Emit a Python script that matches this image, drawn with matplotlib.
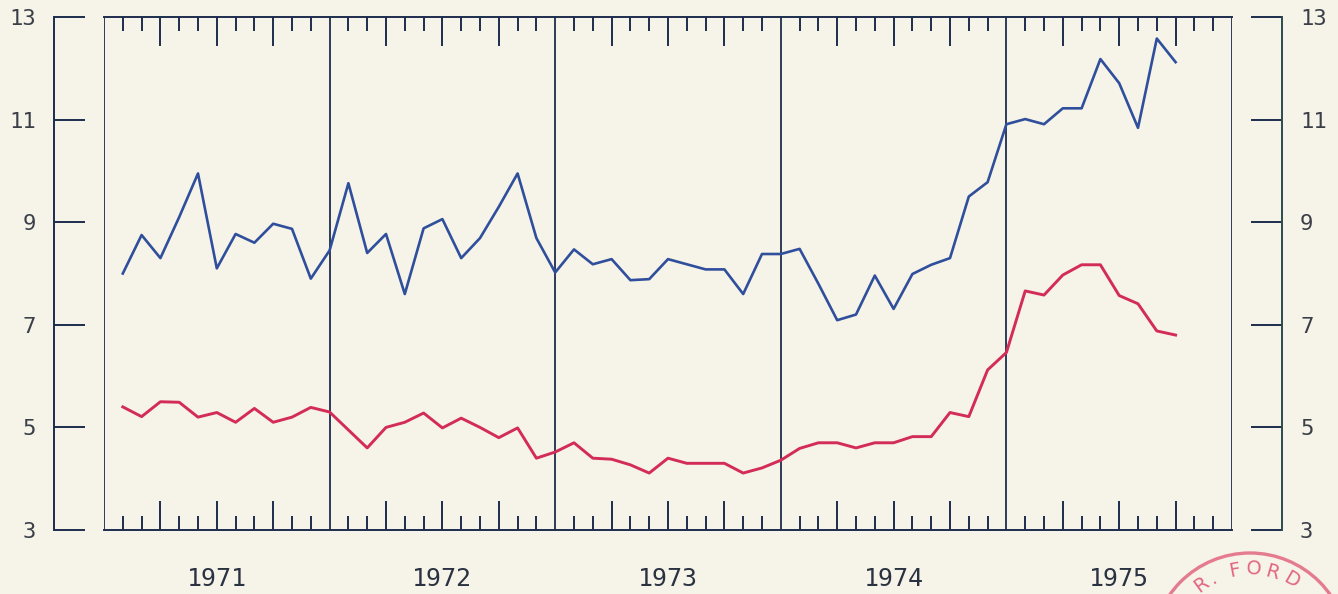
#!/usr/bin/env python3
"""Monthly series 1971-1975, two lines on a boxed plotter-style chart."""
import matplotlib

matplotlib.use("Agg")
import matplotlib.pyplot as plt
from matplotlib.patches import Circle
from matplotlib.ticker import FixedLocator, NullFormatter
import numpy as np

plt.rcParams["font.family"] = ["DejaVu Sans Mono", "DejaVu Sans"]

years = [1971, 1972, 1973, 1974, 1975]
year_labels = ["1971", "1972", "1973", "1974", "1975"]
y_ticks = [3, 5, 7, 9, 11, 13]

# monthly values, Jan 1971 .. Sep 1975
blue = [
    8.00, 8.75, 8.30, 9.10, 9.95, 8.10, 8.77, 8.60, 8.97, 8.87, 7.90, 8.45,
    9.76, 8.40, 8.77, 7.60, 8.88, 9.06, 8.30, 8.69, 9.30, 9.95, 8.69, 8.02,
    8.47, 8.18, 8.28, 7.87, 7.89, 8.28, 8.18, 8.08, 8.08, 7.60, 8.38, 8.38,
    8.48, 7.80, 7.09, 7.20, 7.96, 7.31, 7.99, 8.17, 8.30, 9.50, 9.78, 10.91,
    11.01, 10.91, 11.22, 11.22, 12.18, 11.71, 10.84, 12.58, 12.12,
]
red = [
    5.40, 5.21, 5.50, 5.49, 5.20, 5.29, 5.10, 5.37, 5.10, 5.20, 5.39, 5.30,
    4.95, 4.60, 5.00, 5.10, 5.28, 4.99, 5.18, 5.00, 4.80, 4.99, 4.40, 4.52,
    4.70, 4.40, 4.38, 4.27, 4.11, 4.40, 4.30, 4.30, 4.30, 4.11, 4.21, 4.36,
    4.59, 4.70, 4.70, 4.60, 4.70, 4.70, 4.82, 4.82, 5.29, 5.21, 6.12, 6.46,
    7.66, 7.58, 7.97, 8.17, 8.17, 7.57, 7.41, 6.88, 6.80,
]

# each month plotted at its end: Jan -> year + 1/12, Dec -> next year line
x = years[0] + (np.arange(len(blue)) + 1) / 12.0

bg = "#f6f3e8"
ink = "#1f2d4d"
ink_r = "#2c4a4c"
c_blue = "#2f4f9c"
c_red = "#d22c57"
c_stamp = "#e2667f"

fig = plt.figure(figsize=(13.38, 5.94), dpi=100)
fig.patch.set_facecolor(bg)
ax = fig.add_axes([104 / 1338, 64 / 594, 1128 / 1338, 513 / 594])
ax.set_facecolor("none")

ax.plot(x, blue, color=c_blue, linewidth=1.9, zorder=3)
ax.plot(x, red, color=c_red, linewidth=2.1, zorder=3)

ax.set_xlim(years[0], years[-1] + 1)
ax.set_ylim(3, 13)

# box sides and year separators
for yr in years + [years[-1] + 1]:
    ax.axvline(yr, color=ink, linewidth=1.3, zorder=2)

# month ticks: long ones each quarter, short the rest
months = np.arange(years[0] * 12, (years[-1] + 1) * 12 + 1) / 12.0
quarter = [m for i, m in enumerate(months) if i % 3 == 0 and i % 12 != 0]
other = [m for i, m in enumerate(months) if i % 3 != 0]
ax.xaxis.set_major_locator(FixedLocator(quarter))
ax.xaxis.set_minor_locator(FixedLocator(other))
ax.xaxis.set_major_formatter(NullFormatter())
ax.tick_params(axis="x", which="major", direction="in", length=21, width=1.4,
               top=True, bottom=True, color=ink)
ax.tick_params(axis="x", which="minor", direction="in", length=10, width=1.4,
               top=True, bottom=True, color=ink)

for yr, lab in zip(years, year_labels):
    ax.text(yr + 0.5, -0.095, lab, transform=ax.get_xaxis_transform(),
            ha="center", va="center", fontsize=18, color="#2a3140")

# value scales stand apart from the box on both sides
ax.spines["left"].set_position(("outward", 36))
ax.spines["right"].set_position(("outward", 36))
ax.spines["left"].set_color(ink)
ax.spines["right"].set_color(ink_r)
ax.spines["top"].set_color(ink)
ax.spines["bottom"].set_color(ink)
for s in ax.spines.values():
    s.set_linewidth(1.4)

ax.set_yticks(y_ticks)
ax.set_yticklabels([str(v) for v in y_ticks])
ax.tick_params(axis="y", which="both", direction="in", length=22, width=1.4,
               left=True, right=True, labelleft=True, labelright=True,
               labelsize=16, labelcolor="#3a3f48", pad=13, color=ink)
for tk in ax.yaxis.get_major_ticks():
    tk.tick2line.set_color(ink_r)

# library stamp in the corner
ov = fig.add_axes([0, 0, 1, 1])
ov.set_xlim(0, 1338)
ov.set_ylim(594, 0)
ov.axis("off")
ov.patch.set_alpha(0)
cx, cy, r = 1250, 651, 98
ov.add_patch(Circle((cx, cy), r, fill=False, edgecolor=c_stamp, linewidth=2.4, alpha=0.85))
stamp_chars = ["R", ".", "F", "O", "R", "D"]
stamp_angles = [-36, -27, -11, 3, 16, 30]
for ch, a in zip(stamp_chars, stamp_angles):
    rad = np.deg2rad(a)
    px = cx + 82 * np.sin(rad)
    py = cy - 82 * np.cos(rad)
    ov.text(px, py, ch, ha="center", va="center", fontsize=14, color=c_stamp,
            rotation=-a, family="DejaVu Sans")

fig.savefig("out.png", facecolor=bg, dpi=100)
